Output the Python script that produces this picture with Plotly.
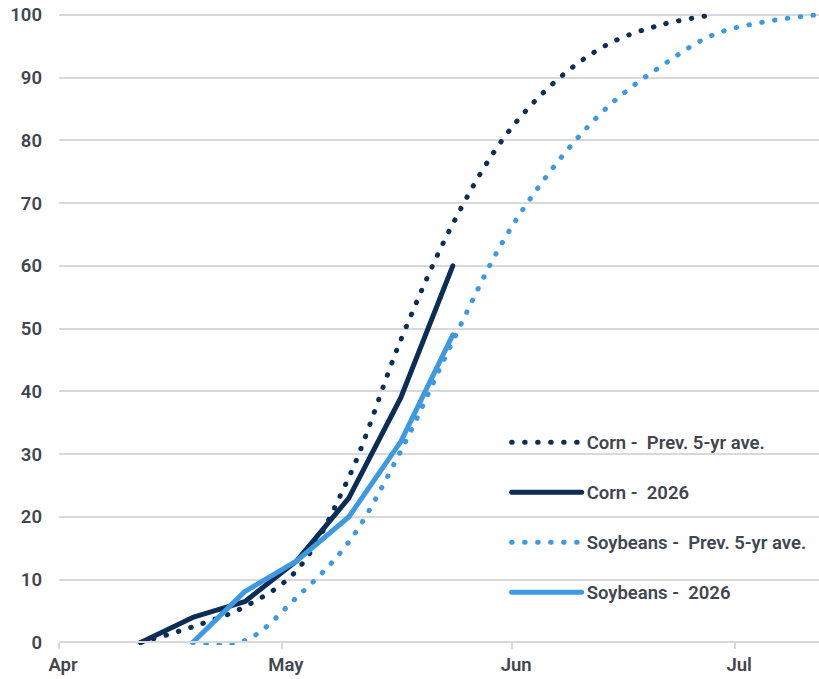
import plotly.graph_objects as go

# ---- data ----
corn_avg_dates = ["2026-04-12", "2026-04-19", "2026-04-26", "2026-05-03", "2026-05-10",
                  "2026-05-17", "2026-05-24", "2026-05-31", "2026-06-07", "2026-06-14",
                  "2026-06-21", "2026-06-28"]
corn_avg_vals = [0, 2.5, 5.7, 11.5, 26.3, 48.2, 66.7, 80.6, 89.6, 95.4, 98.4, 100]

corn_2026_dates = ["2026-04-12", "2026-04-19", "2026-04-26", "2026-05-03", "2026-05-10",
                   "2026-05-17", "2026-05-24"]
corn_2026_vals = [0, 4, 6.5, 13, 23, 39, 60]

soy_avg_dates = ["2026-04-19", "2026-04-26", "2026-05-03", "2026-05-10", "2026-05-17",
                 "2026-05-24", "2026-05-31", "2026-06-07", "2026-06-14", "2026-06-21",
                 "2026-06-28", "2026-07-05", "2026-07-12"]
soy_avg_vals = [0, 0.3, 7.2, 16, 30.5, 48, 64.4, 76.4, 85.5, 91.8, 96.8, 98.9, 100]

soy_2026_dates = ["2026-04-19", "2026-04-26", "2026-05-03", "2026-05-10", "2026-05-17",
                  "2026-05-24"]
soy_2026_vals = [0, 8.1, 13, 20, 32, 49]

series_names = ["Corn -  Prev. 5-yr ave.", "Corn -  2026",
                "Soybeans -  Prev. 5-yr ave.", "Soybeans -  2026"]

NAVY = "#0c2d55"
BLUE = "#3d9ae2"
TEXT = "#3f4650"
GRID = "#d9d9d9"
DOT = "0.5px,12.5px"
FS = 18.5

fig = go.Figure()
fig.add_trace(go.Scatter(x=corn_avg_dates, y=corn_avg_vals, name=series_names[0],
                         mode="lines", legendgroup="a",
                         line=dict(color=NAVY, width=5, dash=DOT, shape="spline", smoothing=1)))
fig.add_trace(go.Scatter(x=corn_2026_dates, y=corn_2026_vals, name=series_names[1],
                         mode="lines", legendgroup="b",
                         line=dict(color=NAVY, width=5)))
fig.add_trace(go.Scatter(x=soy_avg_dates, y=soy_avg_vals, name=series_names[2],
                         mode="lines", legendgroup="c",
                         line=dict(color=BLUE, width=5, dash=DOT, shape="spline", smoothing=1)))
fig.add_trace(go.Scatter(x=soy_2026_dates, y=soy_2026_vals, name=series_names[3],
                         mode="lines", legendgroup="d",
                         line=dict(color=BLUE, width=5)))

y_lo, y_hi = -0.4, 101.1
zero_frac = (0 - y_lo) / (y_hi - y_lo)

fig.update_layout(
    width=819, height=679,
    margin=dict(l=59, r=0, t=8, b=34),
    paper_bgcolor="white", plot_bgcolor="white",
    font=dict(family="Roboto, Arial, sans-serif", size=FS, color=TEXT, weight=600),
    showlegend=True,
    legend=dict(x=0.589, xanchor="left", y=0.20, yanchor="middle",
                itemwidth=70, tracegroupgap=23, traceorder="grouped",
                bgcolor="rgba(0,0,0,0)",
                font=dict(size=FS, color=TEXT, weight=600)),
    xaxis=dict(type="date",
               range=["2026-04-01", "2026-07-12 07:00"],
               tick0="2026-04-01", dtick="M1", tickformat="%b",
               ticks="outside", ticklen=6, tickwidth=1.5, tickcolor=GRID,
               showgrid=False, showline=True, linecolor=GRID, linewidth=1.5,
               anchor="free", position=zero_frac,
               ticklabelshift=4,
               tickfont=dict(size=FS, color=TEXT, weight=600)),
    yaxis=dict(range=[y_lo, y_hi], tick0=0, dtick=10,
               showgrid=True, gridcolor=GRID, gridwidth=1.5,
               zeroline=False, showline=False, ticks="",
               ticklabelstandoff=16,
               tickfont=dict(size=FS, color=TEXT, weight=600)),
)

post = (
    "document.body.style.margin='0';document.body.style.overflow='hidden';"
    "document.querySelectorAll('path.js-line').forEach(function(p){"
    "p.style.strokeLinecap='round';p.style.strokeLinejoin='round';});"
)

fig.write_html("out.html", config={"displayModeBar": False}, post_script=post)
